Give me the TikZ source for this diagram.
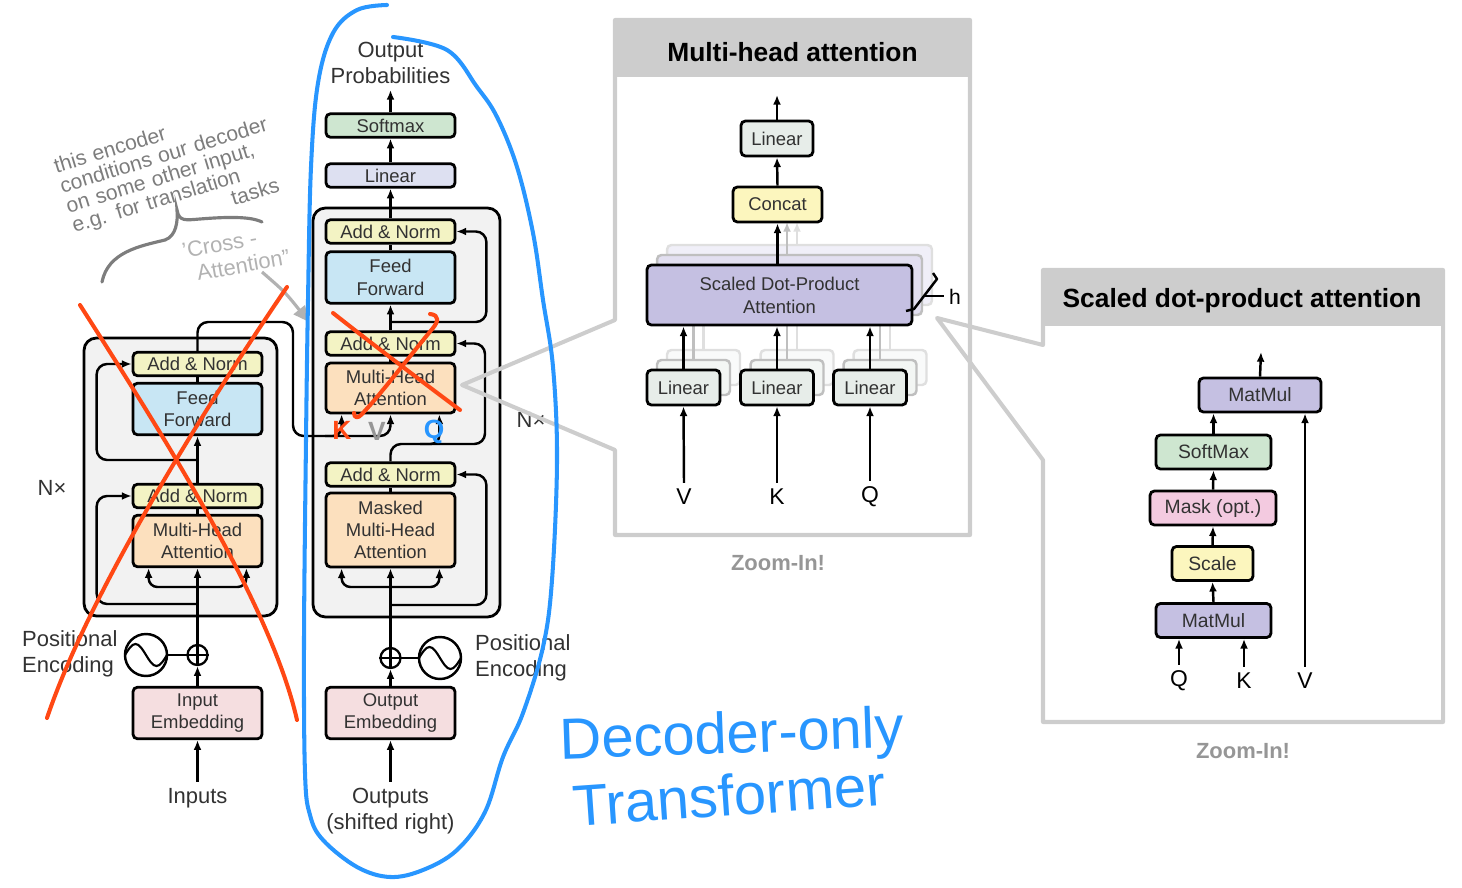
\documentclass[tikz,border=0pt]{standalone}
\usepackage{fontspec}
\setmainfont{Liberation Sans}
\usepackage{tikz}
\usetikzlibrary{arrows.meta}
\usetikzlibrary{calc}

\definecolor{normyellow}{RGB}{243,243,196}
\definecolor{ffblue}{RGB}{200,230,244}
\definecolor{attpeach}{RGB}{252,224,190}
\definecolor{embpink}{RGB}{245,222,224}
\definecolor{linlav}{RGB}{221,224,241}
\definecolor{softgreen}{RGB}{206,230,208}
\definecolor{stackgrey}{RGB}{242,242,242}
\definecolor{lingrey}{RGB}{231,237,233}
\definecolor{catyellow}{RGB}{252,246,190}
\definecolor{sdpapurple}{RGB}{197,192,226}
\definecolor{maskpink}{RGB}{243,202,224}
\definecolor{framegrey}{RGB}{205,205,205}
\definecolor{zoomgrey}{RGB}{150,150,150}
\definecolor{inkgrey}{RGB}{50,50,50}
\definecolor{pencil}{RGB}{125,125,125}
\definecolor{pencillight}{RGB}{178,178,178}
\definecolor{penred}{RGB}{255,72,20}
\definecolor{penblue}{RGB}{40,150,255}

\tikzset{
  blk/.style={draw=black, line width=1.6pt, rounded corners=2.5pt, inner sep=0pt, align=center,
    text=inkgrey, font=\fontsize{10.5}{12.7}\selectfont, minimum width=2.58cm},
  slim/.style={minimum height=0.47cm},
  tall/.style={minimum height=1.03cm},
  zblk/.style={draw=black, line width=1.6pt, rounded corners=2.5pt, inner sep=0pt, align=center,
    text=inkgrey, font=\fontsize{10.5}{13}\selectfont, minimum height=0.7cm},
  sblk/.style={zblk, font=\fontsize{11}{13}\selectfont, minimum height=0.68cm},
  ghost/.style={draw=gray!55, line width=1.4pt, rounded corners=2.5pt, inner sep=0pt},
  stackbox/.style={draw=black, line width=1.6pt, rounded corners=7pt, fill=stackgrey, inner sep=0pt},
  wire/.style={line width=1.4pt},
  flow/.style={line width=1.4pt, -{Latex[length=5.5pt,width=4.5pt]}},
  lbl/.style={text=inkgrey, font=\fontsize{12.5}{14.8}\selectfont, align=center},
  qkv/.style={text=black, font=\fontsize{13}{15}\selectfont},
  sine/.style={draw, circle, line width=1.4pt, minimum size=0.84cm, inner sep=0pt},
  plus/.style={draw, circle, line width=1.3pt, minimum size=0.4cm, inner sep=0pt, fill=white},
  frame/.style={draw=framegrey, line width=2.3pt, line join=round},
  ttl/.style={text=black, font=\fontsize{15}{18}\selectfont\bfseries},
  zoomlbl/.style={text=zoomgrey, font=\fontsize{12.5}{15}\selectfont\bfseries},
  note/.style={text=pencil, font=\fontsize{12}{11.8}\selectfont, inner sep=0pt},
  xnote/.style={text=pencillight, font=\fontsize{12.5}{14}\selectfont, inner sep=0pt, align=left},
  redpen/.style={draw=penred, line width=2.3pt, line cap=round, line join=round},
  bluepen/.style={draw=penblue, line width=2.3pt, line cap=round, line join=round},
  bignote/.style={text=penblue, font=\fontsize{33}{36}\selectfont, inner sep=0pt},
  kvq/.style={font=\fontsize{15}{17}\selectfont\bfseries, inner sep=0pt}
}

\begin{document}
\begin{tikzpicture}[x=0.02cm, y=-0.02cm]
\useasboundingbox (0,0) rectangle (1462,888);

% encoder (left)
\node[stackbox, minimum width=3.86cm, minimum height=5.56cm] (encStack) at (180.5,477) {};
\node[blk, slim, fill=normyellow] (encAN2) at (197.5,364) {Add \& Norm};
\node[blk, tall, fill=ffblue] (encFF) at (197.5,409) {Feed\\Forward};
\node[blk, slim, fill=normyellow] (encAN1) at (197.5,496) {Add \& Norm};
\node[blk, tall, fill=attpeach] (encMHA) at (197.5,541) {Multi-Head\\Attention};
\node[blk, tall, fill=embpink] (inEmb) at (197.5,713) {Input\\Embedding};
\node[lbl] (inLbl) at (197.5,798) {Inputs};
\node[lbl] (encN) at (52,488) {N×};
\node[lbl, anchor=west, align=left] (encPE) at (16,654) {Positional\\Encoding};
\node[sine] (encSine) at (146,655) {};
\node[plus] (encPlus) at (197.5,655) {};

\coordinate (encFork) at (197.5,587);
\coordinate (encRes1) at (197.5,604);
\coordinate (encRes2) at (197.5,460);

\draw[flow] (inLbl.north) -- (inEmb.south);
\draw[flow] (inEmb.north) -- (encPlus.south);
\draw[flow] (encPlus.north) -- (encMHA.south);
\draw[wire] (encSine.east) -- (encPlus.west);
\draw[flow, rounded corners=5pt] (encFork) -| ($(encMHA.south west)+(17,0)$);
\draw[flow, rounded corners=5pt] (encFork) -| ($(encMHA.south east)+(-17,0)$);
\draw[flow, rounded corners=6pt] (encRes1) -| ($(encAN1.west)+(-35,0)$) -- (encAN1.west);
\draw[wire] (encMHA.north) -- (encAN1.south);
\draw[flow] (encAN1.north) -- (encFF.south);
\draw[flow, rounded corners=6pt] (encRes2) -| ($(encAN2.west)+(-35,0)$) -- (encAN2.west);
\draw[wire] (encFF.north) -- (encAN2.south);

% decoder (right)
\node[stackbox, minimum width=3.74cm, minimum height=8.18cm] (decStack) at (406.5,412.5) {};
\node[blk, slim, fill=linlav] (decLin) at (390.5,175.5) {Linear};
\node[blk, slim, fill=softgreen] (decSoft) at (390.5,125.5) {Softmax};
\node[lbl] (outProb) at (390.5,63) {Output\\Probabilities};
\node[blk, slim, fill=normyellow] (decAN3) at (390.5,231.5) {Add \& Norm};
\node[blk, tall, fill=ffblue] (decFF) at (390.5,277.5) {Feed\\Forward};
\node[blk, slim, fill=normyellow] (decAN2) at (390.5,343.5) {Add \& Norm};
\node[blk, minimum height=1cm, fill=attpeach] (decMHA2) at (390.5,388) {Multi-Head\\Attention};
\node[blk, slim, fill=normyellow] (decAN1) at (390.5,474.5) {Add \& Norm};
\node[blk, minimum height=1.48cm, fill=attpeach] (decMMHA) at (390.5,530) {Masked\\Multi-Head\\Attention};
\node[blk, tall, fill=embpink] (outEmb) at (390.5,713) {Output\\Embedding};
\node[lbl] (outLbl) at (390.5,811) {Outputs\\(shifted right)};
\node[plus] (decPlus) at (390.5,658) {};
\node[sine] (decSine) at (440,658) {};
\node[lbl, anchor=west, align=left] (decPE) at (469,658) {Positional\\Encoding};
\node[lbl] (decN) at (531,420) {N×};

\coordinate (decFork) at (390.5,587);
\coordinate (decRes1) at (390.5,605);
\coordinate (decRes3) at (390.5,322);
\coordinate (decQ) at (420,444);

\draw[flow] (outLbl.north) -- (outEmb.south);
\draw[flow] (outEmb.north) -- (decPlus.south);
\draw[flow] (decPlus.north) -- (decMMHA.south);
\draw[wire] (decSine.west) -- (decPlus.east);
\draw[flow, rounded corners=5pt] (decFork) -| ($(decMMHA.south west)+(17,0)$);
\draw[flow, rounded corners=5pt] (decFork) -| ($(decMMHA.south east)+(-17,0)$);
\draw[flow, rounded corners=6pt] (decRes1) -| ($(decAN1.east)+(30,0)$) -- (decAN1.east);
\draw[wire] (decMMHA.north) -- (decAN1.south);
\draw[flow, rounded corners=6pt] (decAN1.north) |- (485,444) |- (decAN2.east);
\draw[flow, rounded corners=5pt] (decQ) -| ($(decMHA2.south east)+(-17,0)$);
\draw[wire] (decMHA2.north) -- (decAN2.south);
\draw[flow] (decAN2.north) -- (decFF.south);
\draw[flow, rounded corners=6pt] (decRes3) -| ($(decAN3.east)+(30,0)$) -- (decAN3.east);
\draw[wire] (decFF.north) -- (decAN3.south);
\draw[flow] (decAN3.north) -- (decLin.south);
\draw[flow] (decLin.north) -- (decSoft.south);
\draw[flow] (decSoft.north) -- (outProb.south);

% encoder output into the cross attention
\draw[flow, rounded corners=6pt] (encAN2.north) |- (293,322) |- (330,436) -| (decMHA2.south);
\draw[flow, rounded corners=5pt] (325,436) -| ($(decMHA2.south west)+(17,0)$);

\foreach \s in {encSine, decSine}
  \draw[line width=1.2pt] ($(\s)+(-21,0)$) sin ($(\s)+(-10.5,-11)$) cos (\s) sin ($(\s)+(10.5,11)$) cos ($(\s)+(21,0)$);
\foreach \p in {encPlus, decPlus}
  \draw[line width=1.2pt] (\p.north) -- (\p.south) (\p.west) -- (\p.east);

% multi-head attention zoom
\fill[framegrey] (615,20) rectangle (970,77);
\coordinate (mhaTip) at (462,385);
\draw[frame] (615,320) -- (615,20) -- (970,20) -- (970,535) -- (615,535) -- (615,450) -- (mhaTip) -- cycle;
\node[ttl] (mhaTtl) at (792.5,52) {Multi-head attention};

\foreach \off/\sh in {20/25,10/50} {
  \foreach \x in {683.5,777,870} {
    \node[ghost, draw=gray!\sh!white, fill=lingrey!\sh!white, minimum width=1.46cm, minimum height=0.7cm] at (\x+\off,387.5-\off) {};
    \draw[line width=1.4pt, draw=gray!\sh!white] (\x+\off,370-\off) -- (\x+\off,325-\off);
  }
  \node[ghost, draw=gray!\sh!white, fill=sdpapurple!\sh!white, minimum width=5.3cm, minimum height=1.2cm] at (779.5+\off,295-\off) {};
  \draw[line width=1.4pt, draw=gray!\sh!white, -{Latex[length=5.5pt,width=4.5pt]}] (777+\off,265-\off) -- (777+\off,222);
}

\node[zblk, fill=lingrey, minimum width=1.44cm] (mhaLin) at (777,138.5) {Linear};
\node[zblk, fill=catyellow, minimum width=1.78cm] (concat) at (777.5,204.5) {Concat};
\node[zblk, fill=sdpapurple, minimum width=5.3cm, minimum height=1.2cm] (sdpa) at (779.5,295) {Scaled Dot-Product\\Attention};
\node[zblk, fill=lingrey, minimum width=1.46cm] (linV) at (683.5,387.5) {Linear};
\node[zblk, fill=lingrey, minimum width=1.46cm] (linK) at (777,387.5) {Linear};
\node[zblk, fill=lingrey, minimum width=1.46cm] (linQ) at (870,387.5) {Linear};
\node[qkv] (inV) at (684,497) {V};
\node[qkv] (inK) at (777,497) {K};
\node[qkv] (inQ) at (870,497) {Q};
\coordinate (mhaOut) at (777,95);

\foreach \v/\l in {inV/linV, inK/linK, inQ/linQ} {
  \draw[flow] (\v.north) -- (\l.south);
  \draw[flow] (\l.north) -- (\l.north |- sdpa.south);
}
\draw[flow] (concat.south |- sdpa.north) -- (concat.south);
\draw[flow] (concat.north) -- (mhaLin.south);
\draw[flow] (mhaLin.north) -- (mhaOut);
\draw[line width=1.4pt, line join=round] (933,273) -- (937,279) -- (914,309) -- (906,311);
\draw[line width=1pt] (925,296) -- (944,296);
\node[qkv, font=\fontsize{12}{14}\selectfont] (hLbl) at (955,297) {h};
\node[zoomlbl] (mhaZoom) at (778,563) {Zoom-In!};

% scaled dot-product attention zoom
\fill[framegrey] (1043,270) rectangle (1443,326);
\coordinate (sdpaTip) at (937,318);
\draw[frame] (1043,345) -- (1043,270) -- (1443,270) -- (1443,722) -- (1043,722) -- (1043,460) -- (sdpaTip) -- cycle;
\node[ttl] (sdpaTtl) at (1242,301) {Scaled dot-product attention};

\node[sblk, fill=sdpapurple, minimum width=2.44cm] (mmTop) at (1260,395) {MatMul};
\node[sblk, fill=softgreen, minimum width=2.3cm] (smx) at (1213.5,452) {SoftMax};
\node[sblk, fill=maskpink, minimum width=2.52cm] (mask) at (1213,508) {Mask (opt.)};
\node[sblk, fill=catyellow, minimum width=1.62cm] (scl) at (1212.5,563.5) {Scale};
\node[sblk, fill=sdpapurple, minimum width=2.3cm] (mmBot) at (1213.5,620.5) {MatMul};
\node[qkv] (sQ) at (1179,681) {Q};
\node[qkv] (sK) at (1244,681) {K};
\node[qkv] (sV) at (1305,681) {V};
\coordinate (sdpaOut) at (1261,352);

\draw[flow] (sQ.north) -- (sQ.north |- mmBot.south);
\draw[flow] (sK.north) -- (sK.north |- mmBot.south);
\draw[flow] (sV.north) -- (sV.north |- mmTop.south);
\draw[flow] (mmBot.north) -- (scl.south);
\draw[flow] (scl.north) -- (mask.south);
\draw[flow] (mask.north) -- (smx.south);
\draw[flow] (smx.north) -- (smx.north |- mmTop.south);
\draw[flow] (mmTop.north) -- (sdpaOut);
\node[zoomlbl] (sdpaZoom) at (1243,751) {Zoom-In!};

% handwritten notes
\node[note, rotate=17, align=left, text width=4.5cm] (encNote) at (174,173)
  {this encoder\\conditions our decoder\\on some other input,\\e.g. for translation\\\hspace*{3.2cm}tasks};
\draw[draw=pencil, line width=1.8pt, line cap=round] (102,282) .. controls (108,252) and (140,246) .. (165,240)
  .. controls (176,236) and (178,222) .. (177,210) .. controls (179,222) and (186,220) .. (200,219)
  .. controls (225,217) and (250,216) .. (262,222);
\node[xnote, rotate=10] (xAttn) at (236,254) {'Cross -\\\hspace{6pt}Attention''};
\coordinate (xFrom) at (262,272);
\coordinate (xTip) at (309,322);
\draw[draw=pencillight, line width=1.8pt, -{Triangle[length=9pt,width=8pt]}] (xFrom) .. controls (285,292) .. (xTip);

% red crosses
\draw[redpen] (80,305) .. controls (150,415) and (270,600) .. (297,720);
\draw[redpen] (287,287) .. controls (210,400) and (90,590) .. (47,718);
\draw[redpen] (333,313) .. controls (380,350) and (420,380) .. (460,410);
\draw[redpen] (430,314) .. controls (440,315) and (438,322) .. (433,328) .. controls (405,362) and (380,395) .. (362,414)
  .. controls (358,419) and (354,418) .. (354,413);
\node[kvq, text=penred] (kMark) at (342,430) {K};
\node[kvq, text=zoomgrey] (vMark) at (377,431) {V};
\node[kvq, text=penblue] (qMark) at (434,432) {Q};

% blue loop round the decoder
\draw[bluepen] plot[smooth, tension=0.6] coordinates {(393,37) (447,50) (477,87) (497,117) (517,167) (533,233)
  (543,300) (553,367) (557,460) (552,580) (543,647) (523,713) (503,757) (485,812) (457,850) (423,870) (390,877)
  (357,867) (323,840) (310,815) (305,773) (304,640) (306,440) (308,300) (311,167) (318,83) (333,33) (357,10) (387,5)};
\node[bignote, rotate=2] (dOnly) at (732,738) {Decoder-only};
\node[bignote, rotate=4] (tfm) at (729,795) {Transformer};
\end{tikzpicture}
\end{document}
